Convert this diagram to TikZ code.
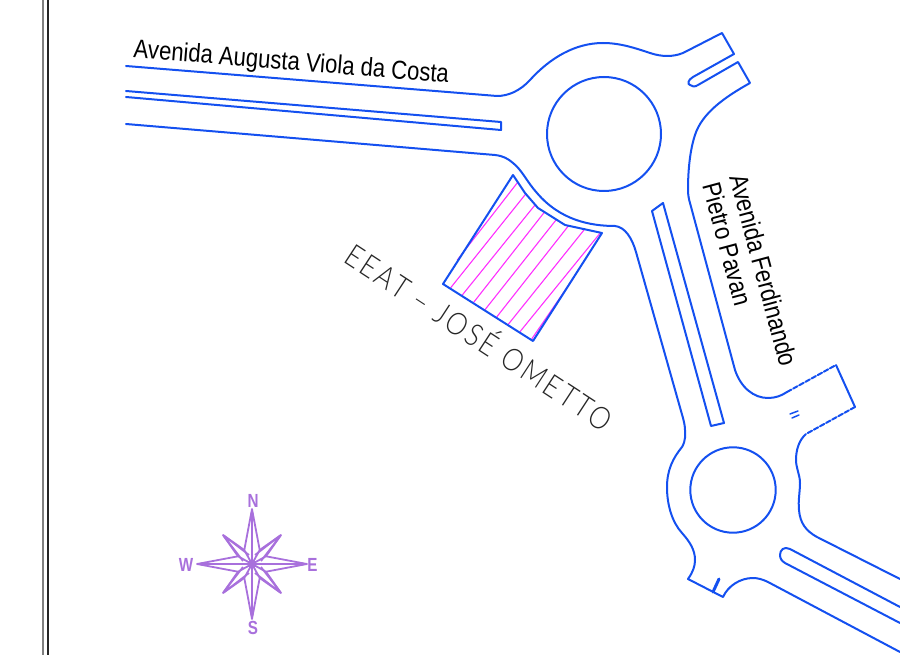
\documentclass[tikz,border=0pt]{standalone}
\usepackage{fontspec}
\setmainfont{Liberation Sans}
\newfontfamily\cadfont[LetterSpace=9,FakeStretch=0.86]{Lato Light}
\newfontfamily\narrowfont[FakeStretch=0.85]{Liberation Sans}
\definecolor{roadblue}{HTML}{1450F0}
\definecolor{hatchpink}{HTML}{FF30FF}
\definecolor{compasspurple}{HTML}{A870DC}
\tikzset{
  road/.style={draw=roadblue,line width=2pt,line join=round,line cap=round},
  hatchline/.style={draw=hatchpink,line width=1.1pt},
  star/.style={draw=compasspurple,line width=1.8pt,line join=round},
  roadlabel/.style={inner sep=0pt,font=\narrowfont\fontsize{26}{28}\selectfont,text=black,align=left},
  compasslabel/.style={inner sep=0pt,text=compasspurple,xscale=0.8,font=\bfseries\fontsize{19}{19}\selectfont}
}
\begin{document}
\begin{tikzpicture}[x=1pt,y=-1pt]
\useasboundingbox (0,0) rectangle (900,655);
% frame lines
\draw[draw=gray,line width=2.5pt] (43,0) -- (43,655);
\draw[draw=black!85,line width=1.3pt] (48,0) -- (48,655);
% upper road edge
\draw[road] (126,66) -- (497,96) .. controls (508,96) and (520,91) .. (530,80)
  .. controls (550,58) and (575,43) .. (603,43) .. controls (620,43) and (635,48) .. (650,53)
  .. controls (662,57) and (673,57) .. (683,53) -- (722,33) -- (734,54) -- (693,77)
  .. controls (688,80) and (687,84) .. (690,85) .. controls (692,87) and (695,87) .. (698,85) -- (738,62) -- (750,83)
  .. controls (725,97) and (702,113) .. (695,135) .. controls (690,150) and (688,170) .. (688,190)
  .. controls (688,195) and (689,200) .. (690,203) -- (735,370) .. controls (741,388) and (754,398) .. (768,398)
  .. controls (775,398) and (781,396) .. (787,392);
\draw[road,dash pattern=on 5pt off 2pt] (787,392) -- (836,365);
\draw[road] (836,365) -- (855,407);
\draw[road,dash pattern=on 5pt off 2pt] (855,407) -- (806,434);
\draw[road] (806,434) .. controls (799,440) and (796,450) .. (796,460)
  .. controls (796,468) and (800,475) .. (800,483) .. controls (800,492) and (798,500) .. (799,510)
  .. controls (800,523) and (806,531) .. (817,537) -- (900,579);
% lower-right median
\draw[road] (900,607) -- (790,549) .. controls (784,546) and (780,550) .. (780,555) .. controls (780,559) and (782,561) .. (785,563) -- (900,623);
% bottom edge
\draw[road] (900,652) -- (768,582) .. controls (763,579.5) and (758,578) .. (753,578)
  .. controls (740,578) and (728,586) .. (723,597) -- (688,579)
  .. controls (693,572) and (695,566) .. (695,560) .. controls (695,550) and (690,542) .. (682,533)
  .. controls (672,522) and (667,505) .. (667,487) .. controls (667,470) and (673,458) .. (682,447)
  .. controls (686,440) and (685,435) .. (685,430) .. controls (685,426) and (684,422) .. (683,418)
  -- (636,252) .. controls (632,238) and (625,227) .. (615,226)
  .. controls (590,226) and (560,220) .. (537,193) .. controls (527,182) and (522,170) .. (513,163)
  .. controls (507,158) and (503,156) .. (495,155) -- (126,124);
% left median
\draw[road] (126,91) -- (501,122) -- (501,130) -- (126,97);
% right median
\draw[road] (652,211) -- (663,203) -- (724,423) -- (711,426) -- cycle;
% roundabouts
\draw[road] (604,134) circle[radius=57];
\draw[road] (733,490) circle[radius=42.7];
% small marks
\draw[road,line width=1.5pt] (790,414) -- (798,411) (792,418) -- (799,415);
\draw[road,line width=3pt] (713,592) -- (719,579);
% hatch
\foreach \ax/\ay/\bx/\by in {
 517.7/182.3/457.3/260,
 525.7/194/450.7/287.7,
 535/205/462.3/295,
 544.3/212.3/473.7/302.3,
 556/220/485/309.7,
 568.3/226/496.7/317,
 584/230/508.3/324.3,
 600/233.3/520/331.7,
 573.3/278.3/531.7/339}
  \draw[hatchline] (\ax,\ay) -- (\bx,\by);
\draw[road] (513,175) -- (443,284) -- (533,341) -- (602,233) -- (565,225) -- (538,208) -- (525,193) -- cycle;
% labels
\node[roadlabel,rotate=-4.7,anchor=base west] (augusta) at (133,57) {Avenida Augusta Viola da Costa};
\node[roadlabel,rotate=-75,anchor=base west] (ferdinando) at (729,177) {Avenida Ferdinando};
\node[roadlabel,rotate=-75,anchor=base west] (pietro) at (702,185) {Pietro Pavan};
\node[inner sep=0pt,rotate=-33.2,anchor=west,text=black!85] (eeat) at (350,250) {\cadfont\fontsize{31}{31}\selectfont EEAT – JOSÉ OMETTO};
% compass
\coordinate (c) at (252,564);
\begin{scope}[shift={(c)}]
\foreach \r in {0,90,180,270}{
  \draw[star,rotate=\r] (0,0) -- (-7.7,-14) -- (0,-55) -- (7.7,-14) -- (0,0) (0,0) -- (0,-55);
  \draw[star,rotate=\r] (-7.7,-14) -- (-29,-29) -- (-14,-7.7);
  \draw[star,rotate=\r] (-29,-29) -- (-9,-3) (-29,-29) -- (-3,-9);
}
\fill[compasspurple] (0,0) circle[radius=4];
\end{scope}
\node[compasslabel] (north) at (253,501) {N};
\node[compasslabel] (east) at (312.5,565) {E};
\node[compasslabel] (south) at (253,628) {S};
\node[compasslabel] (west) at (186,565) {W};
\end{tikzpicture}
\end{document}
